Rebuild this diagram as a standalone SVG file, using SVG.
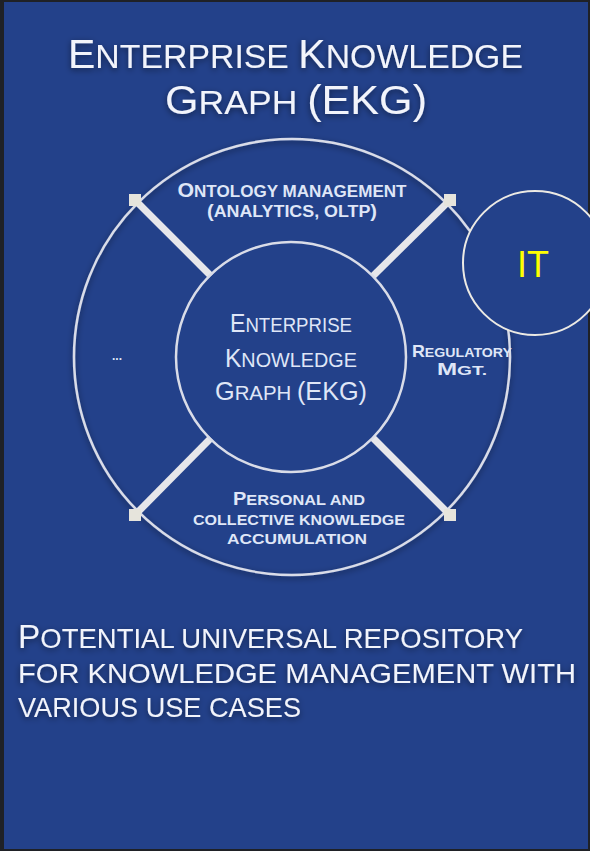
<svg xmlns="http://www.w3.org/2000/svg" width="590" height="851" viewBox="0 0 590 851">
<defs>
<style>
.t{font-family:"Liberation Sans","Open Sans",sans-serif;fill:#f2f4fb;}
.c{font-family:"Liberation Sans","Open Sans",sans-serif;fill:#dfe6f7;text-anchor:middle;}
.b{font-weight:bold;}
.ring{fill:none;stroke:#d9dce8;stroke-width:2.5;}
.spoke{stroke:#e6e6ea;stroke-width:7;}
.sq{fill:#e6e4dc;}
</style>
<filter id="sh" x="-20%" y="-20%" width="140%" height="140%">
<feGaussianBlur in="SourceAlpha" stdDeviation="3"/>
<feOffset dx="0" dy="2"/>
<feComponentTransfer><feFuncA type="linear" slope="0.5"/></feComponentTransfer>
<feMerge><feMergeNode/><feMergeNode in="SourceGraphic"/></feMerge>
</filter>
</defs>
<rect x="0" y="0" width="590" height="851" fill="#1f2126"/>
<rect x="4" y="2" width="584" height="847" fill="#23418a"/>

<g id="title" filter="url(#sh)">
<text class="t" x="68" y="68" textLength="455" lengthAdjust="spacingAndGlyphs"><tspan font-size="40">E</tspan><tspan font-size="33">NTERPRISE </tspan><tspan font-size="40">K</tspan><tspan font-size="33">NOWLEDGE</tspan></text>
<text class="t" x="165" y="114" textLength="262" lengthAdjust="spacingAndGlyphs"><tspan font-size="40">G</tspan><tspan font-size="33">RAPH </tspan><tspan font-size="40">(EKG)</tspan></text>
</g>

<g id="outer-ring" filter="url(#sh)">
<circle class="ring" cx="292" cy="357" r="218" fill="#23418a"/>
</g>

<g id="connectors">
<line class="spoke" x1="211" y1="276" x2="135" y2="200"/>
<line class="spoke" x1="373" y1="276" x2="450" y2="200"/>
<line class="spoke" x1="211" y1="438" x2="135" y2="515"/>
<line class="spoke" x1="373" y1="438" x2="450" y2="515"/>
<rect class="sq" x="129" y="194" width="12" height="12"/>
<rect class="sq" x="444" y="194" width="12" height="12"/>
<rect class="sq" x="129" y="509" width="12" height="12"/>
<rect class="sq" x="444" y="509" width="12" height="12"/>
</g>

<g id="ontology">
<text class="c b" x="292" y="197" textLength="229" lengthAdjust="spacingAndGlyphs"><tspan font-size="20">O</tspan><tspan font-size="16">NTOLOGY MANAGEMENT</tspan></text>
<text class="c b" x="292" y="217" textLength="170" lengthAdjust="spacingAndGlyphs" font-size="18">(<tspan font-size="16">ANALYTICS, OLTP</tspan>)</text>
</g>

<g id="regulatory">
<text class="c b" x="462" y="357" textLength="100" lengthAdjust="spacingAndGlyphs"><tspan font-size="17">R</tspan><tspan font-size="13.5">EGULATORY</tspan></text>
<text class="c b" x="462" y="375" textLength="50" lengthAdjust="spacingAndGlyphs"><tspan font-size="17">M</tspan><tspan font-size="13.5">GT.</tspan></text>
</g>

<g id="other">
<text class="c b" x="117" y="360" font-size="12">...</text>
</g>

<g id="personal">
<text class="c b" x="299" y="505" textLength="132" lengthAdjust="spacingAndGlyphs"><tspan font-size="19">P</tspan><tspan font-size="15.5">ERSONAL AND</tspan></text>
<text class="c b" x="299" y="525" textLength="212" lengthAdjust="spacingAndGlyphs" font-size="15.5">COLLECTIVE KNOWLEDGE</text>
<text class="c b" x="297" y="544" textLength="140" lengthAdjust="spacingAndGlyphs" font-size="15.5">ACCUMULATION</text>
</g>

<g id="ekg-core">
<circle class="ring" cx="291" cy="357" r="115" fill="#23418a"/>
<text class="c" x="291" y="332" textLength="122" lengthAdjust="spacingAndGlyphs"><tspan font-size="26">E</tspan><tspan font-size="21">NTERPRISE</tspan></text>
<text class="c" x="291" y="367" textLength="132" lengthAdjust="spacingAndGlyphs"><tspan font-size="26">K</tspan><tspan font-size="21">NOWLEDGE</tspan></text>
<text class="c" x="291" y="400" textLength="152" lengthAdjust="spacingAndGlyphs"><tspan font-size="26">G</tspan><tspan font-size="21">RAPH </tspan><tspan font-size="26">(EKG)</tspan></text>
</g>

<g id="it">
<circle cx="535" cy="263" r="72" fill="#23418a" stroke="#eceae4" stroke-width="2"/>
<text x="533" y="277" font-family="Liberation Sans, sans-serif" font-size="36" fill="#ffff00" text-anchor="middle">IT</text>
</g>

<g id="caption" filter="url(#sh)">
<text class="t" x="18" y="648" textLength="505" lengthAdjust="spacingAndGlyphs"><tspan font-size="34">P</tspan><tspan font-size="28">OTENTIAL UNIVERSAL REPOSITORY</tspan></text>
<text class="t" x="18" y="683" textLength="558" lengthAdjust="spacingAndGlyphs" font-size="28">FOR KNOWLEDGE MANAGEMENT WITH</text>
<text class="t" x="18" y="717" textLength="283" lengthAdjust="spacingAndGlyphs" font-size="28">VARIOUS USE CASES</text>
</g>
</svg>
